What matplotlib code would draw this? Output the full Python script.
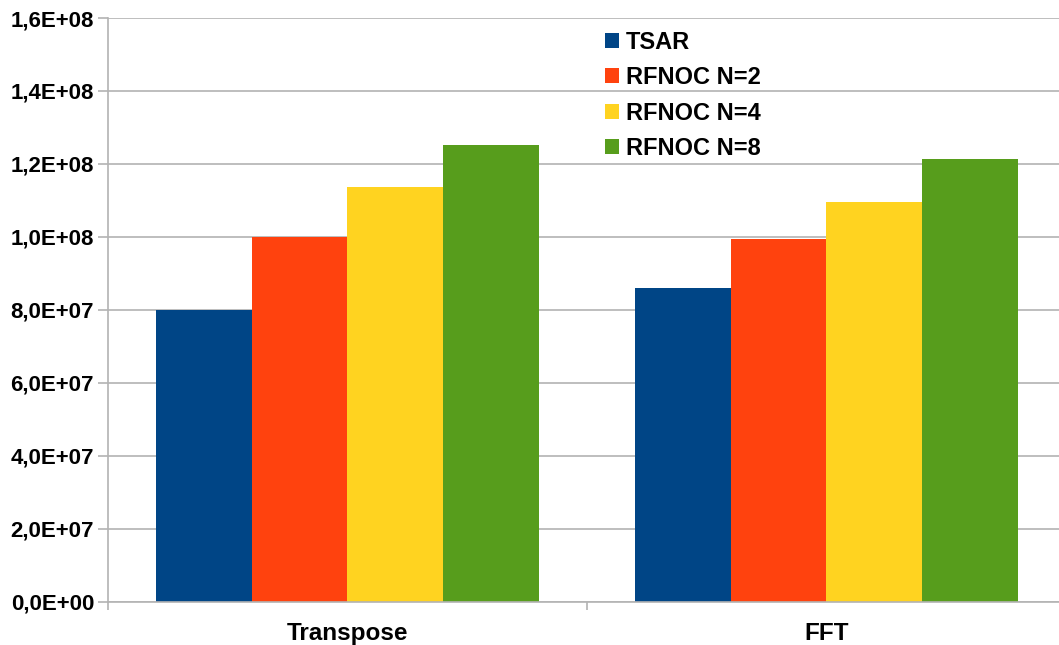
import matplotlib
matplotlib.use("Agg")
import matplotlib.pyplot as plt
from matplotlib.patches import Patch
from matplotlib.ticker import FixedLocator, FuncFormatter
import numpy as np

categories = ["Transpose", "FFT"]
series_names = ["TSAR", "RFNOC N=2", "RFNOC N=4", "RFNOC N=8"]
tsar = [8.0e7, 8.6e7]
rfnoc_n2 = [1.0e8, 0.995e8]
rfnoc_n4 = [1.137e8, 1.096e8]
rfnoc_n8 = [1.252e8, 1.214e8]
colors = ["#004586", "#ff420e", "#ffd320", "#579d1c"]

plt.rcParams['font.family'] = ['Liberation Sans', 'DejaVu Sans']

fig = plt.figure(figsize=(10.59, 6.45), dpi=100)
W, H = 1059, 645
ax = fig.add_axes([108 / W, (H - 601.5) / H, (1066 - 108) / W, (601.5 - 18) / H])

x = np.arange(len(categories))
bw = 0.2
all_series = [tsar, rfnoc_n2, rfnoc_n4, rfnoc_n8]
for i, (vals, c) in enumerate(zip(all_series, colors)):
    ax.bar(x + (i - 1.5) * bw, vals, width=bw, color=c, zorder=3, linewidth=0)

ax.set_xlim(-0.5, 1.5)
ax.set_ylim(0, 1.6e8)
ax.set_yticks(np.arange(0, 1.6e8 + 1, 0.2e8))

def fmt(v, pos):
    if v == 0:
        return "0,0E+00"
    e = int(np.floor(np.log10(v) + 1e-9))
    m = v / 10 ** e
    return f"{m:.1f}".replace(".", ",") + f"E+{e:02d}"

ax.yaxis.set_major_formatter(FuncFormatter(fmt))
ax.set_xticks(x)
ax.set_xticklabels(categories)
ax.xaxis.set_minor_locator(FixedLocator([-0.5, 0.5, 1.5]))

grid_c = "#b3b3b3"
ax.grid(axis="y", color=grid_c, linewidth=1.2, zorder=0)
for s in ["top", "right"]:
    ax.spines[s].set_visible(False)
for s in ["left", "bottom"]:
    ax.spines[s].set_color(grid_c)
    ax.spines[s].set_linewidth(1.2)
    ax.spines[s].set_zorder(4)

ax.tick_params(axis="y", which="major", length=7, width=1.2, color=grid_c, pad=3,
               labelsize=16)
ax.tick_params(axis="x", which="major", length=0, pad=15, labelsize=17.5)
ax.tick_params(axis="x", which="minor", length=6, width=1.2, color=grid_c)
for lab in ax.get_yticklabels() + ax.get_xticklabels():
    lab.set_fontweight("bold")

handles = [Patch(facecolor=c, edgecolor="none") for c in colors]
leg = ax.legend(handles, series_names, loc="upper left",
                bbox_to_anchor=(605 / W, (H - 31) / H), bbox_transform=fig.transFigure,
                frameon=False, prop={"weight": "bold", "size": 17},
                handlelength=0.6, handleheight=0.6, handletextpad=0.3,
                labelspacing=0.52, borderaxespad=0, borderpad=0)

fig.savefig("out.png", dpi=100)
